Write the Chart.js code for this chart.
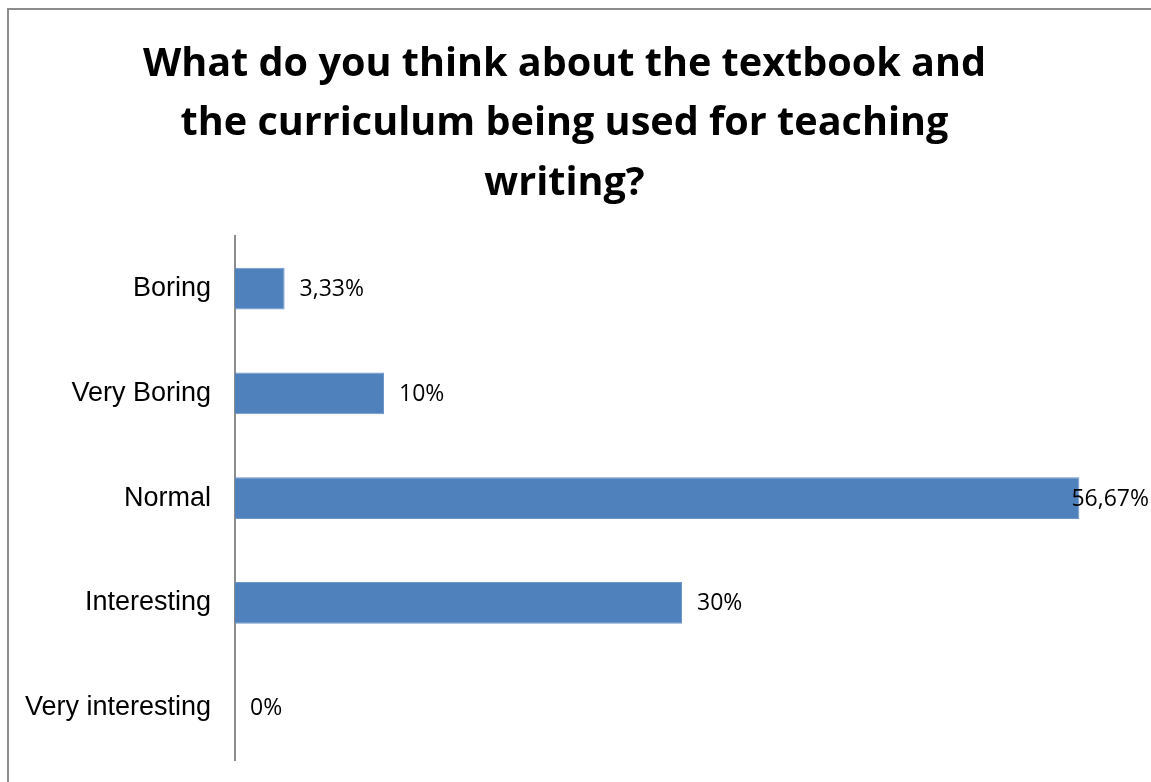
<!DOCTYPE html>
<html>
<head>
<meta charset="utf-8">
<title>Textbook and curriculum survey</title>
<script src="https://cdn.jsdelivr.net/npm/chart.js@4.4.1/dist/chart.umd.min.js"></script>
<style>
	html, body { margin: 0; padding: 0; background: #fff; overflow: hidden; }
	#wrap { position: relative; width: 1151px; height: 782px; }
	#chart { display: block; }
	#frame {
		position: absolute; left: 7px; top: 8px; width: 1200px; height: 800px;
		border-left: 2px solid #8c8c8c; border-top: 2px solid #8c8c8c;
		box-sizing: border-box; pointer-events: none;
	}
</style>
</head>
<body>
<div id="wrap">
	<canvas id="chart" width="1151" height="782"></canvas>
	<div id="frame"></div>
</div>
<script>
	'use strict';

	// Survey answers (top to bottom) and share of respondents in %
	const answers = ['Boring', 'Very Boring', 'Normal', 'Interesting', 'Very interesting'];
	const shares = [3.33, 10, 56.67, 30, 0];
	const titleLines = [
		'What do you think about the textbook and',
		'the curriculum being used for teaching',
		'writing?'
	];

	// Percent with a decimal comma, e.g. 56,67%
	function fmtPct(v) {
		return String(v).replace('.', ',') + '%';
	}

	// Value labels at the end of each bar
	const barLabels = {
		id: 'barLabels',
		afterDatasetsDraw: function(chart) {
			const ctx = chart.ctx;
			const meta = chart.getDatasetMeta(0);
			ctx.save();
			ctx.font = '23px "Open Sans", sans-serif';
			ctx.fillStyle = '#000';
			ctx.textBaseline = 'middle';
			meta.data.forEach(function(bar, i){
				const txt = fmtPct(shares[i]);
				const w = ctx.measureText(txt).width;
				let x = bar.x + 15;
				if (x + w > chart.width - 2) x = chart.width - 2 - w;
				ctx.fillText(txt, x, bar.y + 1);
			});
			ctx.restore();
		}
	};

	new Chart(document.getElementById('chart'), {
		type: 'bar',
		data: {
			labels: answers,
			datasets: [{
				data: shares,
				backgroundColor: '#4f81bd',
				borderColor: '#7096c8',
				borderWidth: 1,
				barPercentage: 0.4,
				categoryPercentage: 1
			}]
		},
		options: {
			indexAxis: 'y',
			responsive: false,
			animation: false,
			layout: { padding: { left: 0, right: 22, top: 0, bottom: 22 } },
			plugins: {
				legend: { display: false },
				tooltip: { enabled: false },
				title: {
					display: true,
					text: titleLines,
					color: '#000',
					font: { family: '"Open Sans", sans-serif', size: 39.6, weight: 'bold', lineHeight: 1.5 },
					padding: { top: 35, bottom: 23 }
				}
			},
			scales: {
				x: {
					display: false,
					min: 0,
					max: 60
				},
				y: {
					afterFit: function(scale){
						scale.width = 235;
						// tick padding shouldn't push the plot away from the bottom edge
						scale.paddingTop = 0;
						scale.paddingBottom = 0;
					},
					grid: { display: false, drawTicks: false },
					border: { display: true, color: '#8c8c8c', width: 2 },
					ticks: {
						color: '#000',
						padding: 24,
						font: { family: '"Liberation Sans", Arial, sans-serif', size: 27 }
					}
				}
			}
		},
		plugins: [barLabels]
	});
</script>
</body>
</html>
